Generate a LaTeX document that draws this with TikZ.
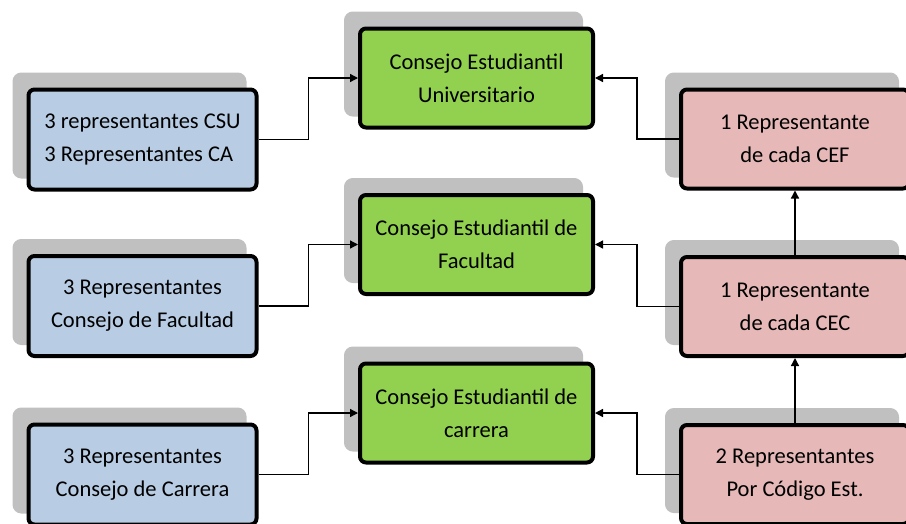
\documentclass[tikz,border=0pt]{standalone}
\usepackage{fontspec}
\setmainfont{Carlito}
\usetikzlibrary{arrows.meta,calc,shadows}
\definecolor{bluefill}{RGB}{184,204,228}
\definecolor{greenfill}{RGB}{146,208,80}
\definecolor{pinkfill}{RGB}{230,184,183}
\definecolor{shadowgray}{RGB}{192,192,192}
\tikzset{
  box/.style={draw=black, line width=4pt, rounded corners=6pt, inner sep=0pt,
    align=center, text=black,
    font=\fontsize{22.5}{33}\selectfont,
    execute at begin node={\vspace*{6pt}},
    general shadow={fill=shadowgray, draw=shadowgray, line width=6pt,
      shadow xshift=-13pt, shadow yshift=14pt}},
  bluebox/.style={box, fill=bluefill, minimum width=228pt, minimum height=100pt},
  greenbox/.style={box, fill=greenfill, minimum width=233pt, minimum height=99pt},
  pinkbox/.style={box, fill=pinkfill, minimum width=228pt, minimum height=99pt},
  conn/.style={draw=black, line width=1.3pt, -{Triangle[length=8pt,width=8pt]}}
}
\begin{document}
\begin{tikzpicture}[x=1pt,y=-1pt]
\useasboundingbox (0,0) rectangle (906,523);
\clip (0,0) rectangle (906,523);
\node[bluebox, align=left] (b1) at (142.5,139.5) {3 representantes CSU\\3 Representantes CA};
\node[bluebox] (b2) at (142.5,306) {3 Representantes\\Consejo de Facultad};
\node[bluebox] (b3) at (142.5,474.5) {3 Representantes\\Consejo de Carrera};
\node[greenbox] (g1) at (476.5,78) {Consejo Estudiantil\\Universitario};
\node[greenbox] (g2) at (476.5,244.5) {Consejo Estudiantil de\\Facultad};
\node[greenbox] (g3) at (476.5,413) {Consejo Estudiantil de\\carrera};
\node[pinkbox] (p1) at (795,139) {1 Representante\\de cada CEF};
\node[pinkbox] (p2) at (795,306.5) {1 Representante\\de cada CEC};
\node[pinkbox] (p3) at (795,474.5) {2 Representantes\\Por Código Est.};
\draw[conn] (b1.east) -| ($(b1.east)!.5!(g1.west)$) |- (g1.west);
\draw[conn] (b2.east) -| ($(b2.east)!.5!(g2.west)$) |- (g2.west);
\draw[conn] (b3.east) -| ($(b3.east)!.5!(g3.west)$) |- (g3.west);
\draw[conn] (p1.west) -| ($(p1.west)!.5!(g1.east)$) |- (g1.east);
\draw[conn] (p2.west) -| ($(p2.west)!.5!(g2.east)$) |- (g2.east);
\draw[conn] (p3.west) -| ($(p3.west)!.5!(g3.east)$) |- (g3.east);
\draw[conn] (p2.north) -- (p1.south);
\draw[conn] (p3.north) -- (p2.south);
\end{tikzpicture}
\end{document}
